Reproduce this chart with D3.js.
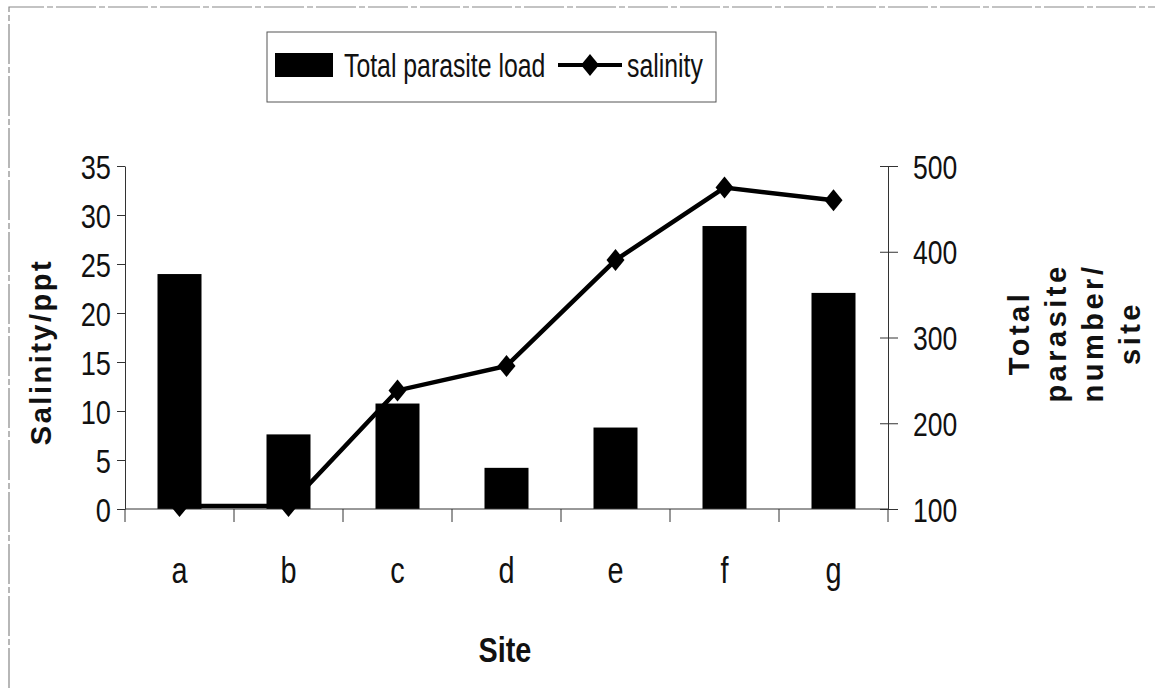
<!DOCTYPE html>
<html>
<head>
<meta charset="utf-8">
<script src="https://cdn.jsdelivr.net/npm/d3@7"></script>
<style>
  body { margin: 0; background: #fff; }
  text { font-family: "Liberation Sans", Arial, sans-serif; fill: #111; }
  .bold { font-weight: bold; }
</style>
</head>
<body>
<script>
// data
var sites = ["a", "b", "c", "d", "e", "f", "g"];
var parasiteLoad = [374, 187, 223, 148, 195, 430, 352];
var salinity = [0.3, 0.3, 12.1, 14.6, 25.4, 32.8, 31.5];
var salinityTicks = [0, 5, 10, 15, 20, 25, 30, 35];
var parasiteTicks = [100, 200, 300, 400, 500];

var W = 1155, H = 688;
var plotL = 125, plotR = 888, plotT = 166, plotB = 509;

var svg = d3.select("body").append("svg")
   .attr("width", W)
   .attr("height", H);

// squeeze text sideways to get the narrow look of the original
function narrow(sel, k) {
  sel.each(function() {
    var t = d3.select(this);
    var x0 = +t.attr("x") || 0;
    t.attr("x", x0 / k).attr("transform", "scale(" + k + ",1)");
  });
}

// outer frame (only top and left survive in the scan)
svg.append("path")
  .attr("d", "M9,688 L9,7 L1155,7")
  .attr("fill", "none")
  .attr("stroke", "#888")
  .attr("stroke-width", 1.2)
  .attr("stroke-dasharray", "40,3,6,3");

var x = d3.scaleBand().domain(sites).range([plotL, plotR]);
var yL = d3.scaleLinear().domain([0, 35]).range([plotB, plotT]);
var yR = d3.scaleLinear().domain([100, 500]).range([plotB, plotT]);

// bars
svg.selectAll("rect.bar")
  .data(sites)
  .enter()
  .append("rect")
  .attr("class", "bar")
  .attr("x", function(d) { return x(d) + x.bandwidth() / 2 - 22 })
  .attr("width", 44)
  .attr("y", function(d, i) { return yR(parasiteLoad[i]) })
  .attr("height", function(d, i) { return plotB - yR(parasiteLoad[i]) })
  .style("fill", "#000");

// left axis
var gl = svg.append("g")
  .attr("transform", "translate(" + plotL + ",0)")
  .call(d3.axisLeft(yL).tickValues(salinityTicks).tickSize(8).tickPadding(6).tickSizeOuter(0));
gl.selectAll("text").style("font-size", "34px").attr("dy", "0.36em");
narrow(gl.selectAll("text"), 0.8);

// right axis
var gr = svg.append("g")
  .attr("transform", "translate(" + plotR + ",0)")
  .call(d3.axisRight(yR).tickValues(parasiteTicks).tickSize(10).tickPadding(15).tickSizeOuter(0));
gr.selectAll(".tick line").attr("x1", -8);
gr.selectAll("text").style("font-size", "34px").attr("dy", "0.36em");
narrow(gr.selectAll("text"), 0.78);
svg.selectAll("g").attr("font-family", null).attr("font-size", null);

// x axis: ticks sit on the category boundaries
var gx = svg.append("g");
gx.append("line")
  .attr("x1", plotL).attr("x2", plotR)
  .attr("y1", plotB).attr("y2", plotB)
  .attr("stroke", "#333");
gx.selectAll("line.xt")
  .data(sites.concat(["end"]))
  .enter()
  .append("line")
  .attr("class", "xt")
  .attr("x1", function(d) { return d === "end" ? plotR : x(d) })
  .attr("x2", function(d) { return d === "end" ? plotR : x(d) })
  .attr("y1", plotB)
  .attr("y2", plotB + 13)
  .attr("stroke", "#333");
gx.selectAll("text")
  .data(sites)
  .enter()
  .append("text")
  .attr("x", function(d) { return x(d) + x.bandwidth() / 2 })
  .attr("y", 583)
  .attr("text-anchor", "middle")
  .style("font-size", "37px")
  .text(function(d) { return d });
narrow(gx.selectAll("text"), 0.78);

svg.selectAll(".domain, .tick line").attr("stroke", "#333");

// salinity line
var line = d3.line()
  .x(function(d, i) { return x(sites[i]) + x.bandwidth() / 2 })
  .y(function(d) { return yL(d) });
svg.append("path")
  .datum(salinity)
  .attr("d", line)
  .attr("fill", "none")
  .attr("stroke", "#000")
  .attr("stroke-width", 4.5);

var diamond = "M0,-11L9,0L0,11L-9,0Z";
svg.selectAll("path.mk")
  .data(salinity)
  .enter()
  .append("path")
  .attr("class", "mk")
  .attr("d", diamond)
  .attr("transform", function(d, i) {
    return "translate(" + (x(sites[i]) + x.bandwidth() / 2) + "," + yL(d) + ")";
  })
  .style("fill", "#000");

// axis titles
svg.append("text")
  .attr("class", "bold")
  .attr("transform", "translate(51,352) rotate(-90)")
  .attr("text-anchor", "middle")
  .style("font-size", "29px")
  .style("letter-spacing", "2.5px")
  .text("Salinity/ppt");

var rightTitle = ["Total", "parasite", "number/", "site"];
svg.selectAll("text.rt")
  .data(rightTitle)
  .enter()
  .append("text")
  .attr("class", "rt bold")
  .attr("transform", function(d, i) { return "translate(" + (1029 + i * 37) + ",333) rotate(-90)" })
  .attr("text-anchor", "middle")
  .style("font-size", "29px")
  .style("letter-spacing", "3.5px")
  .text(function(d) { return d });

var st = svg.append("text")
  .attr("class", "bold")
  .attr("x", 505)
  .attr("y", 662)
  .attr("text-anchor", "middle")
  .style("font-size", "36px")
  .text("Site");
narrow(st, 0.8);

// legend
var lg = svg.append("g");
lg.append("rect")
  .attr("x", 267).attr("y", 32)
  .attr("width", 449).attr("height", 70)
  .attr("fill", "#fff")
  .attr("stroke", "#555");
lg.append("rect")
  .attr("x", 275).attr("y", 53)
  .attr("width", 58).attr("height", 24)
  .style("fill", "#000");
var l1 = lg.append("text")
  .attr("x", 344).attr("y", 77)
  .style("font-size", "34px")
  .text("Total parasite load");
narrow(l1, 0.73);
lg.append("line")
  .attr("x1", 558).attr("x2", 622)
  .attr("y1", 65).attr("y2", 65)
  .attr("stroke", "#000")
  .attr("stroke-width", 4);
lg.append("path")
  .attr("d", diamond)
  .attr("transform", "translate(590,65)")
  .style("fill", "#000");
var l2 = lg.append("text")
  .attr("x", 627).attr("y", 77)
  .style("font-size", "34px")
  .text("salinity");
narrow(l2, 0.73);
</script>
</body>
</html>
